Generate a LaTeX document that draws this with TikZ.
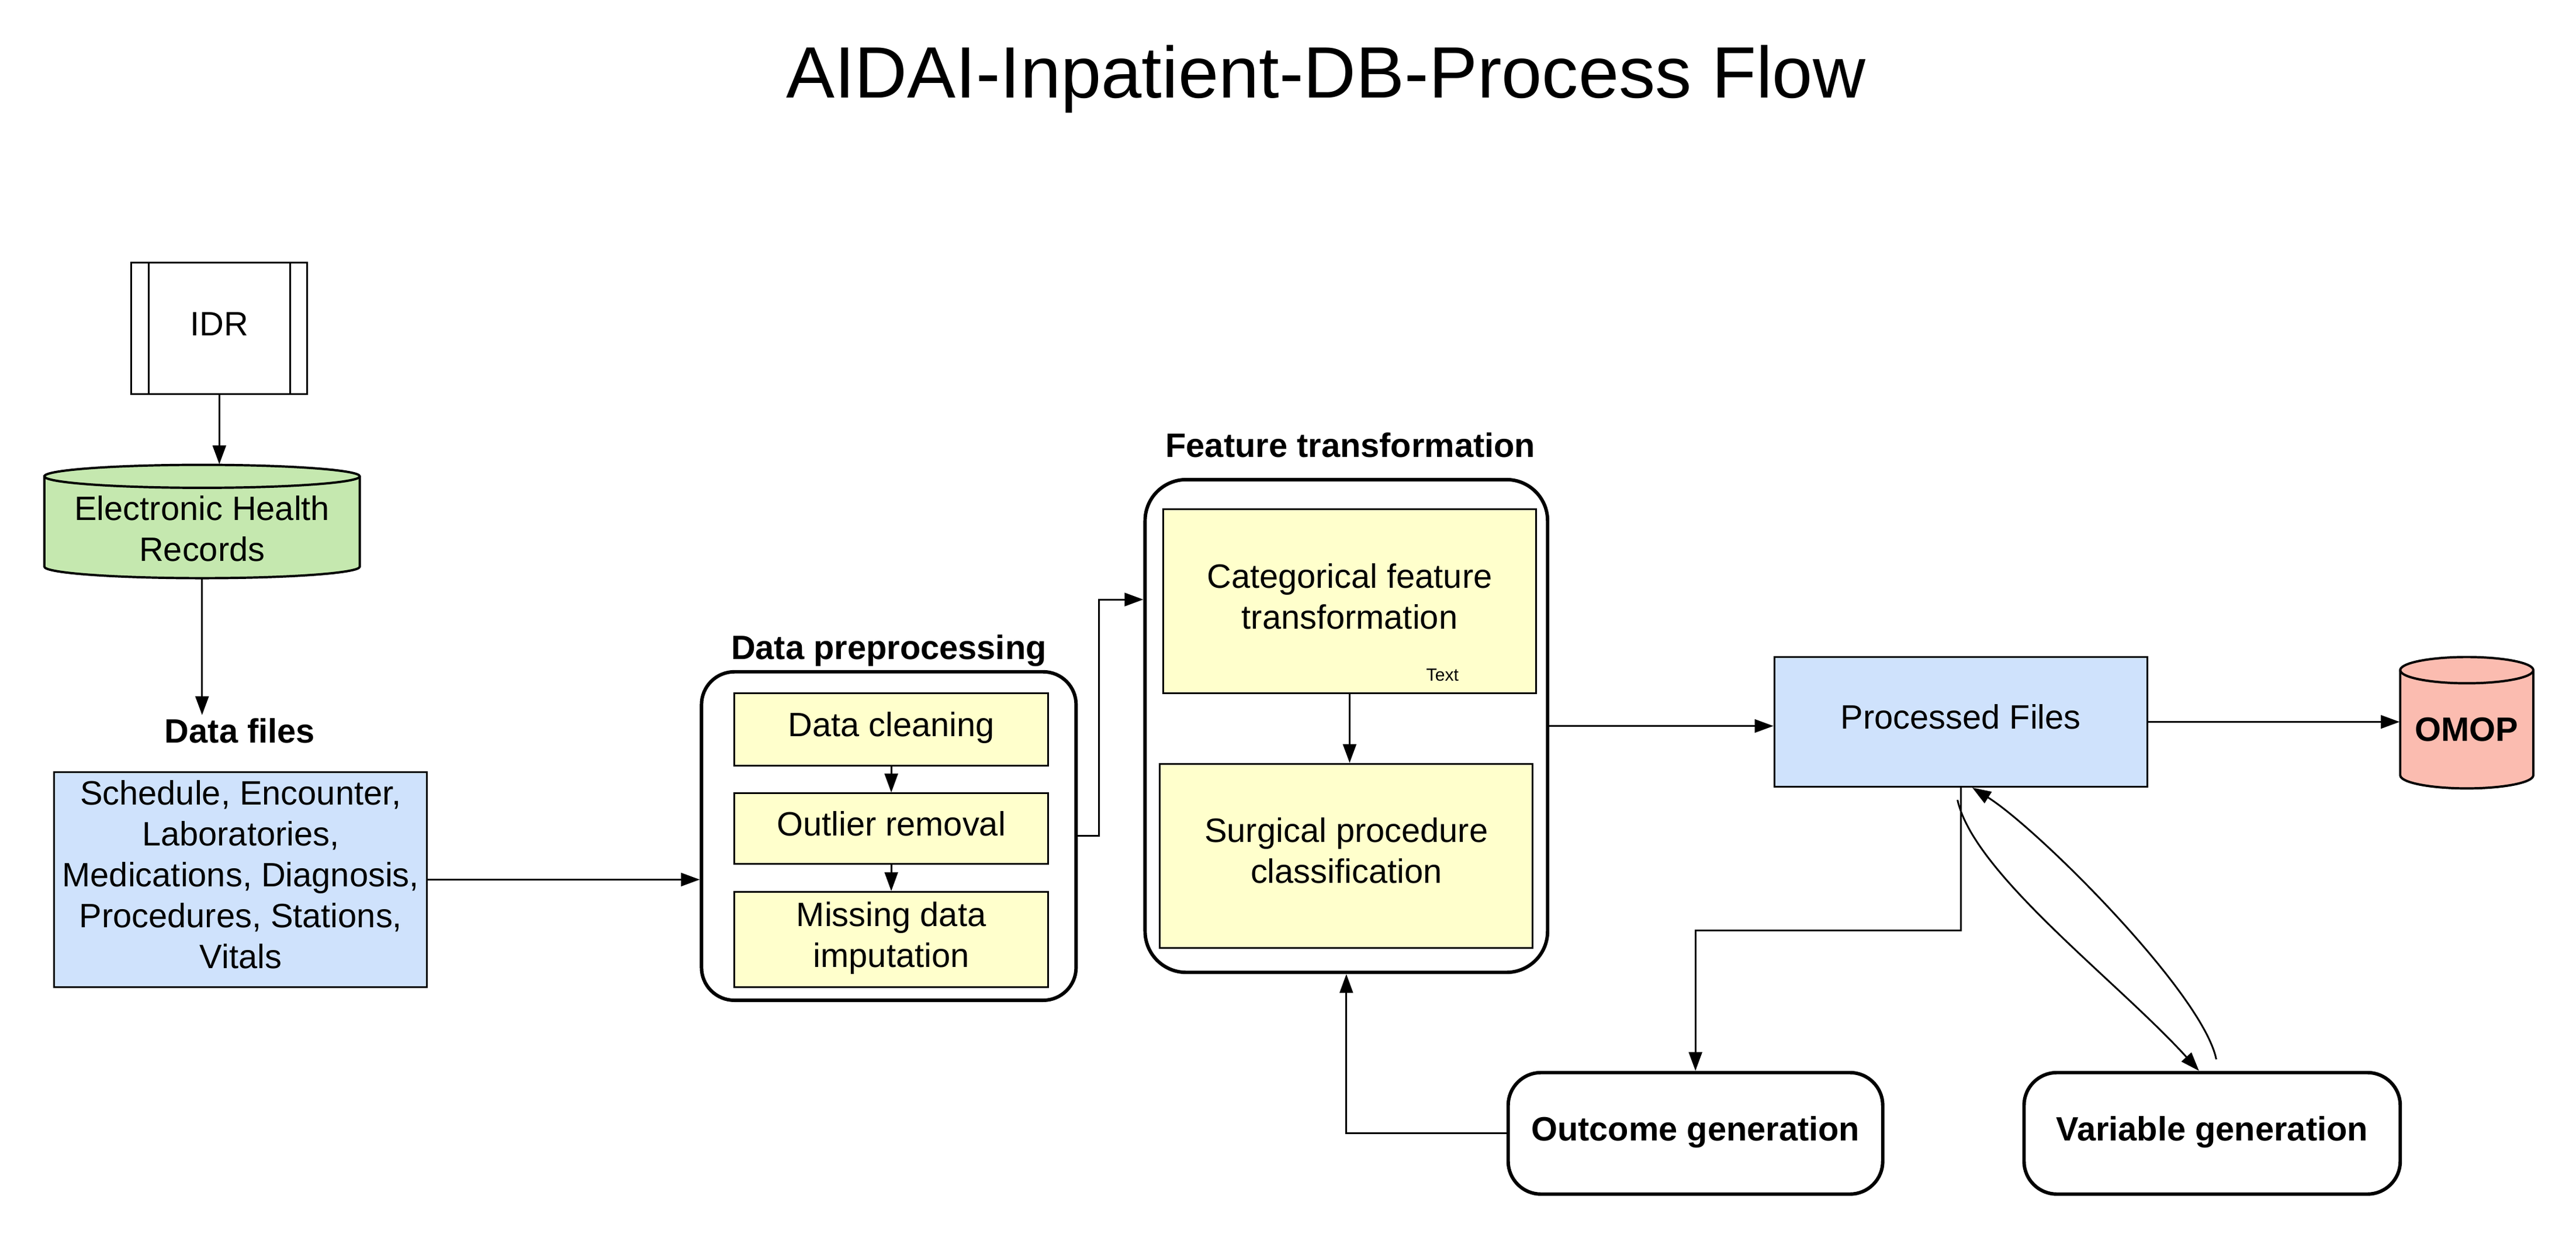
\documentclass[tikz,border=0pt]{standalone}
\usepackage{fontspec}
\setmainfont{Liberation Sans}
\usetikzlibrary{arrows.meta}
\definecolor{fillYellow}{HTML}{FFFFCC}
\definecolor{fillBlue}{HTML}{CFE2FC}
\definecolor{fillGreen}{HTML}{C5E8AF}
\definecolor{fillRed}{HTML}{FBBCB0}
\begin{document}
\begin{tikzpicture}
        [>={Triangle[length=6.5pt,width=4.6pt]},
        conn/.style={line width=0.6pt},
        textNode/.style={align=center, inner sep=1pt, font=\fontsize{11.7}{14.2}\selectfont},
        oneLine/.style={text height=8.19pt, text depth=3.23pt},
        twoLines/.style={text height=22.39pt, text depth=3.23pt},
        fiveLines/.style={text height=64.99pt, text depth=3.23pt},
        boxPlain/.style={rectangle, draw, line width=0.6pt, textNode},
        boxYellow/.style={boxPlain, fill=fillYellow},
        boxBlue/.style={boxPlain, fill=fillBlue},
        cylLine/.style={line width=0.8pt},
        container/.style={rectangle, draw, line width=1.2pt, rounded corners=0.4cm},
        containerLabel/.style={textNode, font=\fontsize{11.7}{14.2}\selectfont\bfseries},
        roundBox/.style={rectangle, draw, line width=1.2pt, rounded corners=0.4cm, containerLabel, oneLine}]
        \useasboundingbox (0,0) rectangle (31.36,-15.104);
        \node[font=\fontsize{25.2}{30}\selectfont] (title) at (16.14,-0.96) {AIDAI-Inpatient-DB-Process Flow};

        % sources
        \node[boxPlain, oneLine, minimum width=2.14cm, minimum height=1.6cm] (idr) at (2.67,-4.0) {IDR};
        \draw[conn] ([xshift=0.22cm]idr.north west) -- ([xshift=0.22cm]idr.south west);
        \draw[conn] ([xshift=-0.22cm]idr.north east) -- ([xshift=-0.22cm]idr.south east);

        \draw[cylLine, fill=fillGreen] (0.54,-5.80) -- (0.54,-6.90) arc[start angle=180, end angle=360, x radius=1.92, y radius=0.14] -- (4.38,-5.80) arc[start angle=0, end angle=180, x radius=1.92, y radius=0.14] -- cycle;
        \draw[cylLine] (0.54,-5.80) arc[start angle=180, end angle=360, x radius=1.92, y radius=0.14];
        \node[minimum width=3.84cm, minimum height=1.38cm] (ehr) at (2.46,-6.35) {};
        \node[textNode] (ehrText) at (2.46,-6.44) {Electronic Health\\Records};

        \node[containerLabel] (filesLabel) at (2.92,-8.9) {Data files};
        \node[boxBlue, fiveLines, minimum width=4.54cm, minimum height=2.62cm] (files) at (2.93,-10.71) {Schedule, Encounter,\\Laboratories,\\Medications, Diagnosis,\\Procedures, Stations,\\Vitals};

        % preprocessing
        \node[container, minimum width=4.56cm, minimum height=4.0cm] (prep) at (10.82,-10.18) {};
        \node[containerLabel] (prepLabel) at (10.82,-7.92) {Data preprocessing};
        \node[boxYellow, oneLine, minimum width=3.82cm, minimum height=0.88cm] (clean) at (10.85,-8.88) {Data cleaning};
        \node[boxYellow, oneLine, minimum width=3.82cm, minimum height=0.86cm] (outlier) at (10.85,-10.09) {Outlier removal};
        \node[boxYellow, twoLines, minimum width=3.82cm, minimum height=1.16cm] (missing) at (10.85,-11.44) {Missing data\\imputation};

        % feature transformation
        \node[container, rounded corners=0.5cm, minimum width=4.9cm, minimum height=6.0cm] (feat) at (16.39,-8.84) {};
        \node[containerLabel] (featLabel) at (16.44,-5.42) {Feature transformation};
        \node[boxYellow, twoLines, minimum width=4.54cm, minimum height=2.24cm] (cat) at (16.43,-7.32) {Categorical feature\\transformation};
        \node[font=\fontsize{6.1}{7}\selectfont, inner sep=0pt] (catNote) at (17.56,-8.22) {Text};
        \node[boxYellow, twoLines, minimum width=4.54cm, minimum height=2.24cm] (surg) at (16.39,-10.42) {Surgical procedure\\classification};

        % outputs
        \node[boxBlue, oneLine, minimum width=4.54cm, minimum height=1.58cm] (processed) at (23.87,-8.79) {Processed Files};
        \draw[cylLine, fill=fillRed] (29.22,-8.16) -- (29.22,-9.44) arc[start angle=180, end angle=360, x radius=0.81, y radius=0.16] -- (30.84,-8.16) arc[start angle=0, end angle=180, x radius=0.81, y radius=0.16] -- cycle;
        \draw[cylLine] (29.22,-8.16) arc[start angle=180, end angle=360, x radius=0.81, y radius=0.16];
        \node[minimum width=1.62cm, minimum height=1.6cm] (omop) at (30.03,-8.8) {};
        \node[containerLabel] (omopText) at (30.03,-8.88) {OMOP};

        \node[roundBox, minimum width=4.56cm, minimum height=1.48cm] (outcome) at (20.64,-13.8) {Outcome generation};
        \node[roundBox, minimum width=4.58cm, minimum height=1.48cm] (variable) at (26.93,-13.8) {Variable generation};

        \draw[conn, ->] (idr.south) -- (idr.south |- ehr.north);
        \draw[conn, ->] (ehr.south) -- (ehr.south |- filesLabel.north);
        \draw[conn, ->] (files.east) -- (files.east -| prep.west);
        \draw[conn, ->] (clean.south) -- (outlier.north);
        \draw[conn, ->] (outlier.south) -- (missing.north);
        \draw[conn, ->] (prep.east) -- ++(0.26,0) |- ([yshift=1.54cm]feat.west);
        \draw[conn, ->] (cat.south) -- (cat.south |- surg.north);
        \draw[conn, ->] (feat.east) -- (feat.east -| processed.west);
        \draw[conn, ->] (processed.east) -- (processed.east -| omop.west);
        \draw[conn, ->] (processed.south) -- ++(0,-1.74) -| (outcome.north);
        \draw[conn, ->] (outcome.west) -| (feat.south);
        \draw[conn, ->] ([shift={(-0.04,-0.15)}]processed.south) .. controls +(0.2,-0.9) and +(-1.0,1.1) .. ([xshift=-0.16cm]variable.north);
        \draw[conn, ->] ([shift={(0.05,0.14)}]variable.north) .. controls +(-0.16,0.8) and +(0.8,-0.5) .. ([xshift=0.14cm]processed.south);
    \end{tikzpicture}
\end{document}
